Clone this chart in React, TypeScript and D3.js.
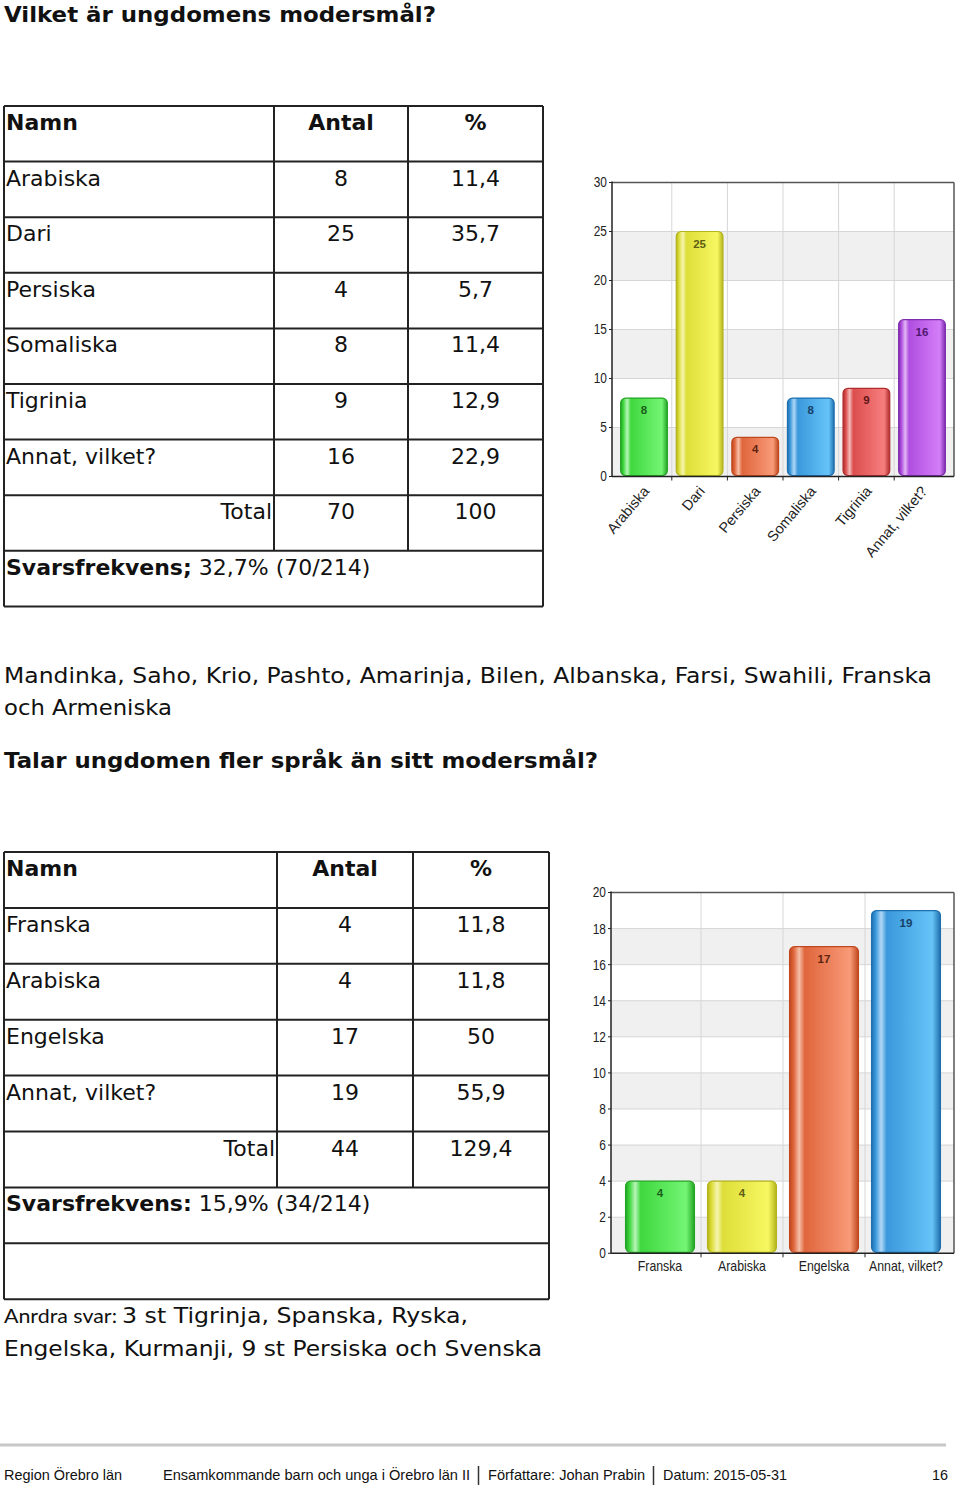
import React from "react";
import * as d3 from "d3";

// ---------- Data ----------
const Q1_TITLE = "Vilket är ungdomens modersmål?";
const Q1_CATEGORIES = ["Arabiska", "Dari", "Persiska", "Somaliska", "Tigrinia", "Annat, vilket?"];
const Q1_COUNTS = [8, 25, 4, 8, 9, 16];
const Q1_PERCENTS = ["11,4", "35,7", "5,7", "11,4", "12,9", "22,9"];
const Q1_TOTAL = ["70", "100"];
const Q1_RESPONSE_LABEL = "Svarsfrekvens;";
const Q1_RESPONSE_VALUE = "32,7% (70/214)";
const Q1_Y_TICKS = [0, 5, 10, 15, 20, 25, 30];
const Q1_COLORS = ["green", "yellow", "orange", "blue", "red", "purple"];

const Q1_OTHER_LINE1 = "Mandinka, Saho, Krio, Pashto, Amarinja, Bilen, Albanska, Farsi, Swahili, Franska";
const Q1_OTHER_LINE2 = "och Armeniska";

const Q2_TITLE = "Talar ungdomen fler språk än sitt modersmål?";
const Q2_CATEGORIES = ["Franska", "Arabiska", "Engelska", "Annat, vilket?"];
const Q2_COUNTS = [4, 4, 17, 19];
const Q2_PERCENTS = ["11,8", "11,8", "50", "55,9"];
const Q2_TOTAL = ["44", "129,4"];
const Q2_RESPONSE_LABEL = "Svarsfrekvens:";
const Q2_RESPONSE_VALUE = "15,9% (34/214)";
const Q2_Y_TICKS = [0, 2, 4, 6, 8, 10, 12, 14, 16, 18, 20];
const Q2_COLORS = ["green", "yellow", "orange", "blue"];

const Q2_OTHER_PREFIX = "Anrdra svar:";
const Q2_OTHER_LINE1 = "3 st Tigrinja, Spanska, Ryska,";
const Q2_OTHER_LINE2 = "Engelska, Kurmanji, 9 st Persiska och Svenska";

const FOOTER_ITEMS = ["Region Örebro län", "Ensamkommande barn och unga i Örebro län II", "Författare: Johan Prabin", "Datum: 2015-05-31"];
const FOOTER_PAGE = "16";

// ---------- Styles ----------
const PALETTE: Record<string, { edge: string; base: string; hi: string; light: string; label: string }> = {
  green: { edge: "#24a424", base: "#3fd83f", hi: "#b8f5b8", light: "#74f574", label: "#1b5e1b" },
  yellow: { edge: "#b4b41c", base: "#dede3a", hi: "#f5f5b0", light: "#f7f762", label: "#5e5e12" },
  orange: { edge: "#c0481e", base: "#e0663c", hi: "#f5c0a8", light: "#f89a78", label: "#5e2410" },
  blue: { edge: "#1f6fae", base: "#3b98dc", hi: "#b0d8f5", light: "#66c4f8", label: "#173f66" },
  red: { edge: "#b02c2c", base: "#dc4e4e", hi: "#f5b8b8", light: "#f77e7e", label: "#5e1616" },
  purple: { edge: "#7e2cae", base: "#b04ee0", hi: "#e2b8f5", light: "#d47ef8", label: "#4e1670" },
};

const VERDANA = "'DejaVu Sans', Verdana, sans-serif";
const ARIAL = "'Liberation Sans', Arial, sans-serif";

function Gradients() {
  return (
    <defs>
      {Object.keys(PALETTE).map((k) => {
        const p = PALETTE[k];
        return (
          <linearGradient key={k} id={`grad-${k}`} x1="0" x2="1" y1="0" y2="0">
            <stop offset="0%" stopColor={p.edge} />
            <stop offset="6%" stopColor={p.base} />
            <stop offset="14%" stopColor={p.hi} />
            <stop offset="22%" stopColor={p.base} />
            <stop offset="88%" stopColor={p.light} />
            <stop offset="100%" stopColor={p.edge} />
          </linearGradient>
        );
      })}
    </defs>
  );
}

type ChartProps = {
  categories: string[];
  values: number[];
  colors: string[];
  ticks: number[];
  axisX: number;
  rightX: number;
  bandRange: [number, number];
  yRange: [number, number];
  rotated: boolean;
};

function BarChart({ categories, values, colors, ticks, axisX, rightX, bandRange, yRange, rotated }: ChartProps) {
  const x = d3.scaleBand<string>().domain(categories).range(bandRange).paddingInner(0.16).paddingOuter(0.08);
  const y = d3.scaleLinear().domain([ticks[0], ticks[ticks.length - 1]]).range(yRange);
  const step = x.step();
  const y0 = y(0);
  const yTop = y(ticks[ticks.length - 1]);
  const boundaries = categories.slice(1).map((c) => (x(c) as number) - (step - x.bandwidth()) / 2);
  const lx = axisX - 5;
  return (
    <g>
      {ticks.slice(0, -1).map((t, i) =>
        i % 2 === 0 ? (
          <rect key={`b${t}`} x={axisX} y={y(ticks[i + 1])} width={rightX - axisX} height={y(t) - y(ticks[i + 1])} fill="#f0f0f0" />
        ) : null
      )}
      {ticks.slice(1, -1).map((t) => (
        <line key={`h${t}`} x1={axisX} x2={rightX} y1={y(t)} y2={y(t)} stroke="#d6d6d6" strokeWidth={1} />
      ))}
      {boundaries.map((bx, i) => (
        <line key={`v${i}`} x1={bx} x2={bx} y1={yTop} y2={y0} stroke="#d6d6d6" strokeWidth={1} />
      ))}
      <line x1={axisX} x2={rightX} y1={yTop} y2={yTop} stroke="#555" strokeWidth={1.5} />
      <line x1={rightX} x2={rightX} y1={yTop} y2={y0} stroke="#555" strokeWidth={1.5} />
      {categories.map((c, i) => {
        const v = values[i];
        const p = PALETTE[colors[i]];
        const bx = x(c) as number;
        const by = y(v);
        return (
          <g key={c}>
            <rect x={bx} y={by} width={x.bandwidth()} height={y0 - by - 1} rx={5} ry={5} fill={`url(#grad-${colors[i]})`} stroke={p.edge} strokeWidth={1.2} />
            <text x={bx + x.bandwidth() / 2} y={by + 16} textAnchor="middle" fontFamily={ARIAL} fontWeight="bold" fontSize={11.5} fill={p.label}>
              {v}
            </text>
          </g>
        );
      })}
      <line x1={axisX} x2={axisX} y1={yTop - 1} y2={y0} stroke="#222" strokeWidth={1.5} />
      <line x1={axisX} x2={rightX} y1={y0} y2={y0} stroke="#222" strokeWidth={1.5} />
      {ticks.map((t) => (
        <g key={`yt${t}`}>
          <line x1={axisX - 3} x2={axisX} y1={y(t)} y2={y(t)} stroke="#222" strokeWidth={1} />
          <text x={lx} y={y(t) + 5} textAnchor="end" fontFamily={ARIAL} fontSize={14} fill="#222" transform={`translate(${lx * 0.15},0) scale(0.85,1)`}>
            {t}
          </text>
        </g>
      ))}
      {boundaries.map((bx, i) => (
        <line key={`xt${i}`} x1={bx} x2={bx} y1={y0} y2={y0 + 4} stroke="#222" strokeWidth={1} />
      ))}
      {categories.map((c) => {
        const cx = (x(c) as number) + x.bandwidth() / 2;
        return rotated ? (
          <text key={`xl${c}`} transform={`translate(${cx + 6},${y0 + 15}) rotate(-50)`} textAnchor="end" fontFamily={ARIAL} fontSize={14.5} fill="#222">
            {c}
          </text>
        ) : (
          <text key={`xl${c}`} x={cx} y={y0 + 18} textAnchor="middle" fontFamily={ARIAL} fontSize={14} fill="#222" transform={`translate(${cx * 0.12},0) scale(0.88,1)`}>
            {c}
          </text>
        );
      })}
    </g>
  );
}

type TableProps = {
  top: number;
  cols: [number, number, number, number];
  rowH: number;
  categories: string[];
  counts: number[];
  percents: string[];
  total: string[];
  responseLabel: string;
  responseValue: string;
  extraEmptyRow: boolean;
};

function DataTable({ top, cols, rowH, categories, counts, percents, total, responseLabel, responseValue, extraEmptyRow }: TableProps) {
  const nRows = 1 + categories.length + 1 + 1 + (extraEmptyRow ? 1 : 0);
  const rowY = (i: number) => top + i * rowH;
  const [c0, c1, c2, c3] = cols;
  const mid1 = (c1 + c2) / 2;
  const mid2 = (c2 + c3) / 2;
  const colBottom = rowY(categories.length + 2);
  const fs = 22;
  const base = 24;
  return (
    <g fontFamily={VERDANA} fontSize={fs} fill="#111">
      {d3.range(nRows + 1).map((i) => (
        <line key={`r${i}`} x1={c0} x2={c3} y1={rowY(i)} y2={rowY(i)} stroke="#222" strokeWidth={2} />
      ))}
      <line x1={c0} x2={c0} y1={top} y2={rowY(nRows)} stroke="#222" strokeWidth={2} />
      <line x1={c3} x2={c3} y1={top} y2={rowY(nRows)} stroke="#222" strokeWidth={2} />
      <line x1={c1} x2={c1} y1={top} y2={colBottom} stroke="#222" strokeWidth={2} />
      <line x1={c2} x2={c2} y1={top} y2={colBottom} stroke="#222" strokeWidth={2} />
      <text x={c0 + 2} y={top + base} fontWeight="bold">Namn</text>
      <text x={mid1} y={top + base} fontWeight="bold" textAnchor="middle">Antal</text>
      <text x={mid2} y={top + base} fontWeight="bold" textAnchor="middle">%</text>
      {categories.map((c, i) => (
        <g key={c}>
          <text x={c0 + 2} y={rowY(i + 1) + base}>{c}</text>
          <text x={mid1} y={rowY(i + 1) + base} textAnchor="middle">{counts[i]}</text>
          <text x={mid2} y={rowY(i + 1) + base} textAnchor="middle">{percents[i]}</text>
        </g>
      ))}
      <text x={c1 - 2} y={rowY(categories.length + 1) + base} textAnchor="end">Total</text>
      <text x={mid1} y={rowY(categories.length + 1) + base} textAnchor="middle">{total[0]}</text>
      <text x={mid2} y={rowY(categories.length + 1) + base} textAnchor="middle">{total[1]}</text>
      <text x={c0 + 2} y={rowY(categories.length + 2) + base}>
        <tspan fontWeight="bold">{responseLabel}</tspan>
        <tspan> {responseValue}</tspan>
      </text>
    </g>
  );
}

export default function App() {
  return (
    <svg width={960} height={1488} style={{ position: "absolute", left: 0, top: 0, background: "#fff" }}>
      <Gradients />
      <rect x={0} y={0} width={960} height={1488} fill="#fff" />
      <text x={4} y={22} fontFamily={VERDANA} fontWeight="bold" fontSize={22} textLength={432} lengthAdjust="spacingAndGlyphs" fill="#111">
        {Q1_TITLE}
      </text>

      <DataTable
        top={106}
        cols={[4, 274, 408, 543]}
        rowH={55.6}
        categories={Q1_CATEGORIES}
        counts={Q1_COUNTS}
        percents={Q1_PERCENTS}
        total={Q1_TOTAL}
        responseLabel={Q1_RESPONSE_LABEL}
        responseValue={Q1_RESPONSE_VALUE}
        extraEmptyRow={false}
      />

      <BarChart
        categories={Q1_CATEGORIES}
        values={Q1_COUNTS}
        colors={Q1_COLORS}
        ticks={Q1_Y_TICKS}
        axisX={612}
        rightX={954}
        bandRange={[616.2, 949.8]}
        yRange={[476.5, 182.5]}
        rotated={true}
      />

      <text x={4} y={683} fontFamily={VERDANA} fontSize={22} textLength={928} lengthAdjust="spacingAndGlyphs" fill="#111">
        {Q1_OTHER_LINE1}
      </text>
      <text x={4} y={715} fontFamily={VERDANA} fontSize={22} textLength={168} lengthAdjust="spacingAndGlyphs" fill="#111">
        {Q1_OTHER_LINE2}
      </text>

      <text x={4} y={768} fontFamily={VERDANA} fontWeight="bold" fontSize={22} textLength={594} lengthAdjust="spacingAndGlyphs" fill="#111">
        {Q2_TITLE}
      </text>

      <DataTable
        top={852}
        cols={[4, 277, 413, 549]}
        rowH={55.9}
        categories={Q2_CATEGORIES}
        counts={Q2_COUNTS}
        percents={Q2_PERCENTS}
        total={Q2_TOTAL}
        responseLabel={Q2_RESPONSE_LABEL}
        responseValue={Q2_RESPONSE_VALUE}
        extraEmptyRow={true}
      />

      <BarChart
        categories={Q2_CATEGORIES}
        values={Q2_COUNTS}
        colors={Q2_COLORS}
        ticks={Q2_Y_TICKS}
        axisX={611}
        rightX={954}
        bandRange={[619, 947]}
        yRange={[1253.3, 892.5]}
        rotated={false}
      />

      <text x={4} y={1323} fontFamily="Lato, 'Open Sans', sans-serif" fontSize={19} textLength={113} lengthAdjust="spacingAndGlyphs" fill="#111">
        {Q2_OTHER_PREFIX}
      </text>
      <text x={122} y={1323} fontFamily={VERDANA} fontSize={22} textLength={346} lengthAdjust="spacingAndGlyphs" fill="#111">
        {Q2_OTHER_LINE1}
      </text>
      <text x={4} y={1356} fontFamily={VERDANA} fontSize={22} textLength={538} lengthAdjust="spacingAndGlyphs" fill="#111">
        {Q2_OTHER_LINE2}
      </text>

      <line x1={0} x2={946} y1={1445} y2={1445} stroke="#c8c8c8" strokeWidth={3} />
      <g fontFamily={ARIAL} fontSize={15} fill="#111">
        <text x={4} y={1480} textLength={118} lengthAdjust="spacingAndGlyphs">{FOOTER_ITEMS[0]}</text>
        <text x={163} y={1480} textLength={307} lengthAdjust="spacingAndGlyphs">{FOOTER_ITEMS[1]}</text>
        <text x={488} y={1480} textLength={157} lengthAdjust="spacingAndGlyphs">{FOOTER_ITEMS[2]}</text>
        <text x={663} y={1480} textLength={124} lengthAdjust="spacingAndGlyphs">{FOOTER_ITEMS[3]}</text>
        <text x={932} y={1480} textLength={16} lengthAdjust="spacingAndGlyphs">{FOOTER_PAGE}</text>
      </g>
      <line x1={478.5} x2={478.5} y1={1466} y2={1485} stroke="#333" strokeWidth={1.5} />
      <line x1={653.5} x2={653.5} y1={1466} y2={1485} stroke="#333" strokeWidth={1.5} />
    </svg>
  );
}
